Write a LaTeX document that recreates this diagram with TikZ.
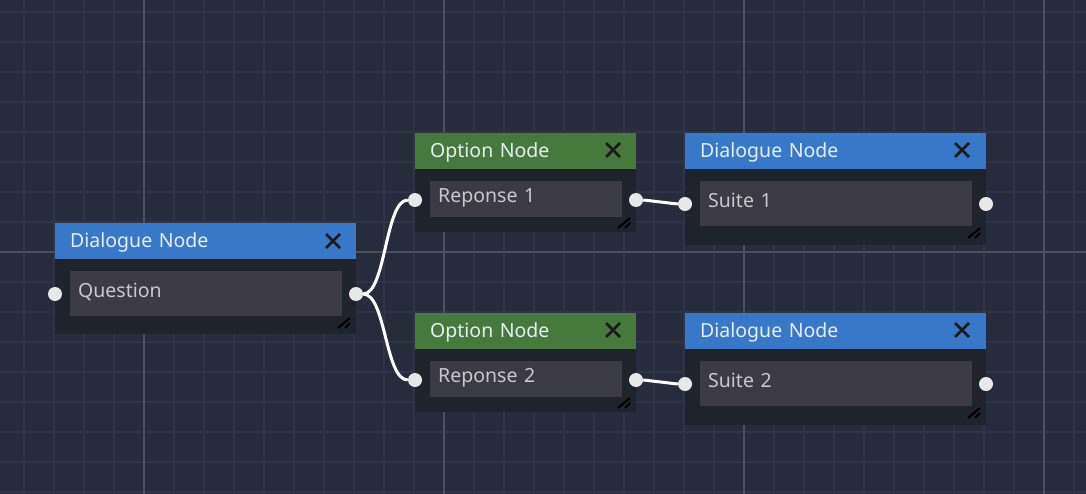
\documentclass[tikz,border=0pt]{standalone}
\usepackage{fontspec}
\setmainfont{Noto Sans}
\definecolor{bgcol}{HTML}{262C3B}
\definecolor{minorcol}{HTML}{2F3546}
\definecolor{majorcol}{HTML}{4B505E}
\definecolor{panelcol}{HTML}{1F232C}
\definecolor{boxcol}{HTML}{3C3B45}
\definecolor{dlgblue}{HTML}{3778C9}
\definecolor{optgreen}{HTML}{467A3C}
\definecolor{titletext}{HTML}{E6EEF6}
\definecolor{boxtext}{HTML}{C8C8CC}
\definecolor{portcol}{HTML}{E8E8E8}
\begin{document}
\begin{tikzpicture}[x=1pt, y=-1pt,
                minorline/.style={draw=minorcol, line width=1.5pt},
                majorline/.style={draw=majorcol, line width=1.5pt},
                panel/.style={fill=panelcol, anchor=north west, inner sep=0pt},
                titlebar/.style={anchor=north west, minimum height=36pt, inner xsep=15pt, inner ysep=0pt, align=left, text=titletext, text height=14pt, text depth=2pt, font=\fontsize{19.5}{22}\selectfont},
                dlgtitle/.style={titlebar, fill=dlgblue, text width=271pt},
                opttitle/.style={titlebar, fill=optgreen, text width=191pt},
                textbox/.style={fill=boxcol, anchor=north west, inner xsep=8pt, inner ysep=0pt, align=left, text=boxtext, text height=14pt, text depth=7pt, font=\fontsize{19.5}{22}\selectfont},
                port/.style={circle, fill=portcol, minimum size=14pt, inner sep=0pt},
                wire/.style={draw=white, line width=3pt},
                closex/.style={draw=black!90, line width=2.6pt},
                grip/.style={draw=black, line width=2pt}]
                \fill [bgcol] (0,0) rectangle (1086,494);
                \useasboundingbox (0,0) rectangle (1086,494);
                \foreach \gx in {24,54,...,1074} \draw [minorline] (\gx,0) -- (\gx,494);
                \foreach \gy in {12,42,...,492} \draw [minorline] (0,\gy) -- (1086,\gy);
                \foreach \gx in {144,444,744,1044} \draw [majorline] (\gx,0) -- (\gx,494);
                \draw [majorline] (0,252) -- (1086,252);
                % question
                \node [panel, minimum width=301pt, minimum height=111pt] (qpanel) at (55,223) {};
                \node [dlgtitle] (qtitle) at (55,223) {Dialogue Node};
                \node [textbox, text width=256pt, minimum height=45pt] (qbox) at (70,271) {Question};
                \node [port] (qin) at (55,294) {};
                \node [port] (qout) at (356,294) {};
                \draw [closex] (326,234) -- (340,248) (326,248) -- (340,234);
                \draw [grip] (338,328) -- (350,318) (345,328) -- (350,323);
                % reponse 1
                \node [panel, minimum width=221pt, minimum height=99pt] (r1panel) at (415,133) {};
                \node [opttitle] (r1title) at (415,133) {Option Node};
                \node [textbox, text width=176pt, minimum height=36pt] (r1box) at (430,181) {Reponse 1};
                \node [port] (r1in) at (415,200) {};
                \node [port] (r1out) at (636,200) {};
                \draw [closex] (606,143) -- (620,157) (606,157) -- (620,143);
                \draw [grip] (618,228) -- (630,218) (625,228) -- (630,223);
                % suite 1
                \node [panel, minimum width=301pt, minimum height=112pt] (s1panel) at (685,133) {};
                \node [dlgtitle] (s1title) at (685,133) {Dialogue Node};
                \node [textbox, text width=256pt, minimum height=45pt] (s1box) at (700,181) {Suite 1};
                \node [port] (s1in) at (685,204) {};
                \node [port] (s1out) at (986,204) {};
                \draw [closex] (955,143) -- (969,157) (955,157) -- (969,143);
                \draw [grip] (968,238) -- (980,228) (975,238) -- (980,233);
                % reponse 2
                \node [panel, minimum width=221pt, minimum height=99pt] (r2panel) at (415,313) {};
                \node [opttitle] (r2title) at (415,313) {Option Node};
                \node [textbox, text width=176pt, minimum height=36pt] (r2box) at (430,361) {Reponse 2};
                \node [port] (r2in) at (415,380) {};
                \node [port] (r2out) at (636,380) {};
                \draw [closex] (606,323) -- (620,337) (606,337) -- (620,323);
                \draw [grip] (618,408) -- (630,398) (625,408) -- (630,403);
                % suite 2
                \node [panel, minimum width=301pt, minimum height=112pt] (s2panel) at (685,313) {};
                \node [dlgtitle] (s2title) at (685,313) {Dialogue Node};
                \node [textbox, text width=256pt, minimum height=45pt] (s2box) at (700,361) {Suite 2};
                \node [port] (s2in) at (685,384) {};
                \node [port] (s2out) at (986,384) {};
                \draw [closex] (955,323) -- (969,337) (955,337) -- (969,323);
                \draw [grip] (968,418) -- (980,408) (975,418) -- (980,413);
                % links
                \draw [wire] (qout) .. controls +(30,0) and +(-30,0) .. (r1in);
                \draw [wire] (qout) .. controls +(30,0) and +(-30,0) .. (r2in);
                \draw [wire] (r1out) .. controls +(8,0) and +(-8,0) .. (s1in);
                \draw [wire] (r2out) .. controls +(8,0) and +(-8,0) .. (s2in);
\end{tikzpicture}
\end{document}
